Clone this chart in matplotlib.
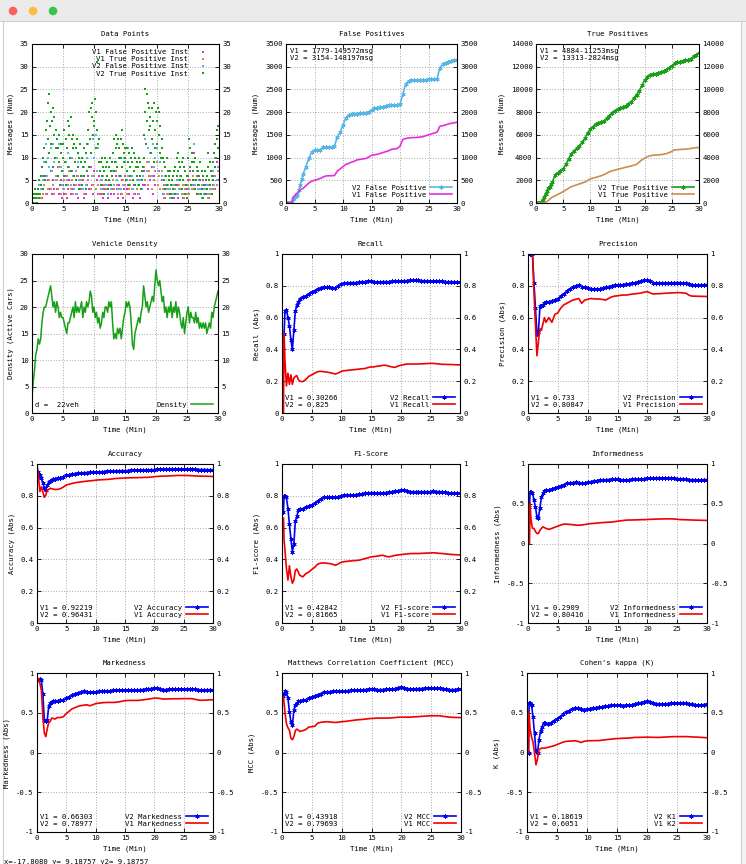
import numpy as np
import matplotlib
matplotlib.use('Agg')
import matplotlib.pyplot as plt
import matplotlib.transforms as mtransforms
from matplotlib.patches import Circle, Rectangle

nan = float('nan')

# ---------------- time axes ----------------
TIME = [0.0, 0.25, 0.35, 0.5, 0.75, 1.0, 1.25, 1.5, 1.75, 2.0, 2.25, 2.5, 2.75, 3.0,
        3.5, 4.0, 4.5, 5.0, 5.5, 6.0, 6.5, 7.0, 7.5, 8.0, 8.5, 9.0, 9.5, 10.0,
        10.5, 11.0, 11.5, 12.0, 12.5, 13.0, 13.5, 14.0, 14.5, 15.0, 15.5, 16.0, 16.5, 17.0, 17.5, 18.0, 18.5, 19.0, 19.5, 20.0,
        20.5, 21.0, 21.5, 22.0, 22.5, 23.0, 23.5, 24.0, 24.5, 25.0, 25.5, 26.0, 26.5, 27.0, 27.5, 28.0, 28.5, 29.0, 29.5, 30.0]

# ---------------- instantaneous data points ----------------
V2_TP_INST = [0,1,0,2,1,3,1,2,0,2, 3,1,5,2,6,4,8,3,10,6, 12,5,16,9,18,14,22,11,24,17,
              20,13,18,8,21,15,19,10,16,12, 14,6,12,9,15,4,11,13,7,10, 13,6,16,9,14,4,12,18,8,15,
              17,10,19,7,14,12,15,6,13,9, 12,5,14,8,11,3,10,13,6,9, 10,4,8,12,6,9,3,11,7,13,
              16,8,20,14,21,11,19,22,15,18, 17,23,12,20,31,16,13,9,14,7, 9,4,10,6,8,2,7,10,5,8,
              6,9,3,8,5,10,7,4,9,6, 11,7,14,9,15,12,13,8,14,10, 12,6,14,10,16,8,13,11,9,12,
              10,5,12,7,9,4,11,8,6,10, 9,12,5,11,7,10,4,8,6,9, 8,4,10,6,9,3,7,5,8,10,
              15,20,25,13,24,18,22,16,21,19, 17,11,21,14,18,9,22,16,12,20, 18,13,21,15,20,11,17,10,14,12,
              10,5,9,3,8,6,10,4,7,5, 6,2,7,4,5,1,6,3,7,2, 8,4,10,6,11,7,9,5,8,6,
              9,3,10,5,8,2,7,4,6,1, 10,6,14,8,12,4,9,11,7,5, 9,3,10,5,8,2,7,4,6,9,
              5,2,7,3,6,1,4,7,2,5, 6,3,8,11,5,9,4,7,2,6, 9,5,11,8,13,10,14,16,12,17]
V1_FP_INST = [0,1,0,2,1, 3,2,4,1,5, 4,6,2,5,3, 7,2,5,3,6, 3,8,2,5,1, 4,2,6,1,3,
              5,2,7,3,4, 2,6,1,4,3, 3,5,1,2,4, 6,3,8,4,2, 7,3,5,2,6, 2,4,1,3,5,
              3,1,4,2,3, 5,2,6,3,1, 4,2,5,1,3, 6,3,4,2,5, 3,1,4,2,3, 2,5,1,3,4,
              7,4,9,3,6, 5,8,2,6,4, 9,4,7,3,5, 2,4,1,3,2, 3,1,2,4,1, 2,4,1,3,5,
              3,1,4,2,3, 5,2,7,3,4, 11,3,6,2,4, 3,1,5,2,4, 2,4,1,3,2, 4,6,3,9,5]
V1_TP_INST = [0,0,1,0,1, 1,2,1,3,2, 4,2,6,3,5, 3,7,4,2,6, 5,3,8,2,4, 3,5,2,6,4,
              7,3,5,2,6, 4,2,6,3,5, 3,6,2,4,7, 5,8,3,6,4, 6,3,7,4,2, 3,5,2,4,3,
              4,2,5,3,6, 5,3,7,4,2, 3,6,2,5,4, 4,2,6,3,5, 3,5,2,4,3, 4,2,5,3,6,
              8,5,9,4,7, 6,3,8,5,7, 9,4,6,3,7, 3,1,4,2,3, 2,3,1,2,4, 3,5,2,4,3,
              2,4,1,3,2, 4,2,5,3,6, 3,5,2,4,3, 2,4,1,3,2, 3,1,4,2,3, 5,3,6,4,7]
V2_FP_INST = [0,1,0,1,2, 2,4,3,6,5, 9,13,6,10,8, 12,7,13,9,5, 10,6,13,8,4, 7,3,9,5,11,
              8,4,10,6,3, 7,2,9,5,4, 6,3,8,4,10, 13,8,11,6,14, 10,15,7,12,9, 5,3,6,2,4,
              4,2,5,3,6, 7,4,9,5,3, 6,3,8,4,10, 9,5,12,6,4, 6,3,7,4,5, 4,2,5,3,6,
              10,14,7,12,9, 11,6,13,8,10, 12,7,15,9,6, 5,2,6,3,4, 3,1,4,2,3, 4,2,5,3,6,
              3,5,2,4,1, 6,3,8,4,5, 13,4,7,3,5, 3,1,4,2,3, 4,2,5,3,6, 7,4,10,5,8]

# ---------------- vehicle density (every 0.2 min) ----------------
DENSITY = [3,6,8,11,12, 14,13,14,17,19, 20,20,21,22,23, 24,22,20,21,19, 21,20,18,19,18,
           18,17,16,15,17, 17,18,19,20,18, 21,19,20,19,20, 21,18,20,19,21, 20,21,23,22,19,
           20,18,19,17,18, 16,17,19,18,20, 20,19,21,20,21, 17,14,15,14,16, 15,16,14,16,18,
           19,21,20,21,20, 17,13,12,15,16, 17,18,17,19,20, 24,22,20,21,19, 20,21,22,21,24,
           27,25,24,25,23, 21,22,19,20,18, 20,19,21,18,20, 19,21,18,20,19, 17,16,18,15,17,
           19,20,17,19,18, 18,17,19,17,18, 16,17,16,17,16, 17,15,16,17,16, 19,18,20,21,22, 23]

# ---------------- cumulative counts ----------------
FP_V2 = [0,0,0,0,5,15,80,130,160,185,280,400,520,640,
         800,980,1120,1160,1160,1170,1230,1230,1230,1235,1250,1460,1560,1720,
         1880,1930,1950,1960,1970,1980,1985,1990,2000,2050,2095,2100,2110,2120,2135,2150,2150,2155,2160,2170,
         2400,2620,2680,2700,2700,2700,2705,2710,2715,2720,2720,2720,2740,2980,3060,3090,3110,3130,3145,3154]
FP_V1 = [0,0,0,0,0,10,130,160,200,220,260,290,310,320,
         380,440,480,500,520,540,570,595,600,600,605,700,750,800,
         850,870,900,920,950,960,970,980,1010,1050,1060,1070,1090,1110,1130,1150,1180,1190,1200,1250,
         1400,1420,1430,1440,1440,1445,1450,1460,1480,1500,1520,1540,1560,1690,1700,1720,1740,1755,1765,1779]
TP_V2 = [0,0,0,0,20,100,300,550,800,1050,1280,1450,1650,1850,
         2450,2650,2800,3000,3400,3900,4300,4600,4800,5050,5350,5700,6200,6500,
         6720,6950,7050,7120,7180,7450,7700,7950,8100,8250,8330,8420,8550,8700,8850,9250,9550,9900,10350,10830,
         11100,11280,11350,11400,11450,11500,11580,11750,11900,12100,12300,12400,12450,12520,12580,12620,12720,12900,13050,13180]
TP_V1 = [0,0,0,0,0,0,0,30,80,130,220,320,420,520,
         620,760,870,1000,1150,1300,1440,1520,1600,1680,1760,1850,1980,2120,
         2200,2250,2330,2400,2500,2620,2750,2830,2900,2960,3020,3080,3150,3200,3250,3330,3400,3600,3800,3950,
         4080,4150,4200,4220,4230,4260,4300,4350,4430,4550,4670,4690,4710,4730,4740,4770,4800,4840,4870,4884]

# ---------------- metrics ----------------
RECALL_V2 = [nan,nan,0.50,0.64,0.65,0.60,0.55,0.46,0.40,0.52,0.64,0.68,0.70,0.72,
             0.73,0.735,0.75,0.76,0.77,0.78,0.785,0.79,0.79,0.79,0.785,0.785,0.80,0.81,
             0.815,0.82,0.82,0.82,0.82,0.825,0.826,0.826,0.83,0.832,0.826,0.824,0.824,0.826,0.826,0.826,0.828,0.828,0.83,0.83,
             0.83,0.832,0.834,0.836,0.836,0.834,0.832,0.832,0.83,0.83,0.83,0.83,0.83,0.828,0.826,0.826,0.826,0.825,0.825,0.825]
RECALL_V1 = [nan,0.0,0.50,0.33,0.17,0.25,0.18,0.24,0.18,0.22,0.23,0.235,0.21,0.20,
             0.197,0.21,0.23,0.24,0.25,0.26,0.262,0.26,0.258,0.254,0.25,0.245,0.252,0.262,
             0.266,0.268,0.27,0.272,0.274,0.276,0.278,0.28,0.286,0.29,0.29,0.294,0.296,0.30,0.30,0.295,0.29,0.287,0.294,0.30,
             0.304,0.308,0.308,0.308,0.308,0.308,0.309,0.31,0.311,0.312,0.312,0.31,0.308,0.306,0.306,0.305,0.305,0.304,0.303,0.3027]
PRECISION_V2 = [nan,nan,1.0,1.0,1.0,0.82,0.66,0.50,0.51,0.67,0.67,0.68,0.69,0.70,
                0.70,0.705,0.71,0.72,0.735,0.75,0.765,0.78,0.79,0.80,0.805,0.795,0.79,0.785,
                0.78,0.78,0.78,0.78,0.785,0.79,0.795,0.80,0.803,0.805,0.805,0.808,0.81,0.812,0.815,0.82,0.825,0.83,0.835,0.837,
                0.83,0.82,0.815,0.815,0.815,0.815,0.815,0.818,0.82,0.82,0.82,0.818,0.815,0.81,0.805,0.805,0.805,0.806,0.807,0.808]
PRECISION_V1 = [nan,nan,nan,nan,1.0,0.76,0.55,0.36,0.45,0.53,0.52,0.56,0.60,0.57,
                0.60,0.57,0.62,0.63,0.66,0.68,0.69,0.70,0.71,0.715,0.72,0.69,0.71,0.715,
                0.72,0.718,0.717,0.717,0.714,0.71,0.72,0.73,0.735,0.737,0.74,0.742,0.742,0.745,0.748,0.75,0.752,0.755,0.76,0.763,
                0.755,0.748,0.75,0.75,0.752,0.753,0.754,0.755,0.756,0.757,0.757,0.755,0.753,0.74,0.735,0.735,0.734,0.734,0.733,0.733]
ACCURACY_V2 = [nan,0.95,0.925,0.93,0.91,0.88,0.85,0.836,0.868,0.885,0.895,0.90,0.905,0.908,
               0.91,0.915,0.92,0.928,0.932,0.937,0.94,0.942,0.944,0.945,0.946,0.947,0.948,0.948,
               0.95,0.951,0.952,0.953,0.954,0.955,0.956,0.957,0.958,0.958,0.959,0.96,0.96,0.961,0.961,0.962,0.962,0.963,0.964,0.964,
               0.967,0.966,0.966,0.966,0.967,0.967,0.967,0.968,0.968,0.968,0.968,0.967,0.967,0.966,0.965,0.965,0.965,0.964,0.964,0.964]
ACCURACY_V1 = [1.0,0.92,0.88,0.826,0.857,0.826,0.79,0.805,0.836,0.84,0.847,0.845,0.842,0.84,
               0.84,0.845,0.855,0.868,0.873,0.878,0.882,0.885,0.887,0.89,0.892,0.894,0.896,0.898,
               0.90,0.901,0.902,0.903,0.905,0.907,0.909,0.91,0.911,0.912,0.913,0.913,0.914,0.914,0.915,0.915,0.916,0.916,0.918,0.92,
               0.922,0.923,0.924,0.924,0.925,0.926,0.927,0.928,0.928,0.928,0.928,0.927,0.926,0.925,0.924,0.924,0.923,0.923,0.922,0.922]
F1_V2 = [nan,0.70,0.80,0.80,0.79,0.72,0.62,0.53,0.447,0.50,0.64,0.67,0.71,0.715,
         0.72,0.728,0.735,0.742,0.752,0.765,0.78,0.79,0.793,0.794,0.792,0.79,0.795,0.80,
         0.805,0.805,0.805,0.805,0.808,0.81,0.813,0.815,0.818,0.82,0.82,0.817,0.815,0.818,0.82,0.823,0.826,0.828,0.832,0.835,
         0.836,0.83,0.826,0.826,0.826,0.826,0.826,0.826,0.826,0.826,0.828,0.827,0.826,0.826,0.822,0.818,0.815,0.816,0.817,0.8167]
F1_V1 = [nan,0.66,0.52,0.458,0.342,0.27,0.36,0.29,0.25,0.27,0.33,0.34,0.32,0.30,
         0.29,0.31,0.32,0.336,0.35,0.37,0.376,0.378,0.376,0.374,0.37,0.363,0.372,0.382,
         0.386,0.388,0.39,0.392,0.393,0.395,0.40,0.405,0.41,0.416,0.418,0.42,0.424,0.426,0.42,0.416,0.42,0.425,0.428,0.43,
         0.432,0.434,0.436,0.437,0.437,0.437,0.438,0.439,0.44,0.44,0.442,0.44,0.438,0.437,0.435,0.433,0.431,0.43,0.429,0.428]
INFORMED_V2 = [nan,0.46,0.65,0.65,0.64,0.546,0.46,0.336,0.32,0.45,0.58,0.63,0.66,0.67,
               0.675,0.688,0.70,0.712,0.725,0.74,0.756,0.762,0.767,0.769,0.765,0.758,0.756,0.77,
               0.777,0.785,0.79,0.80,0.80,0.802,0.804,0.806,0.807,0.807,0.804,0.80,0.80,0.803,0.806,0.808,0.81,0.812,0.815,0.818,
               0.82,0.82,0.82,0.82,0.82,0.82,0.82,0.82,0.818,0.816,0.814,0.81,0.807,0.805,0.802,0.80,0.80,0.802,0.803,0.804]
INFORMED_V1 = [nan,0.0,0.5,0.30,0.19,0.19,0.15,0.126,0.126,0.168,0.19,0.21,0.20,0.19,
               0.178,0.19,0.205,0.218,0.232,0.244,0.243,0.24,0.236,0.232,0.23,0.233,0.238,0.245,
               0.25,0.253,0.256,0.26,0.263,0.266,0.268,0.27,0.275,0.28,0.285,0.29,0.294,0.295,0.296,0.297,0.298,0.30,0.30,0.302,
               0.304,0.306,0.307,0.308,0.309,0.31,0.31,0.31,0.308,0.305,0.30,0.30,0.298,0.297,0.295,0.294,0.293,0.292,0.291,0.291]
MARKED_V2 = [nan,nan,0.916,0.92,0.91,0.73,0.41,0.39,0.41,0.58,0.62,0.63,0.643,0.645,
             0.652,0.66,0.664,0.68,0.70,0.72,0.74,0.75,0.76,0.768,0.765,0.757,0.76,0.765,
             0.768,0.77,0.772,0.775,0.777,0.78,0.78,0.78,0.78,0.78,0.78,0.78,0.782,0.785,0.788,0.792,0.797,0.80,0.805,0.81,
             0.81,0.80,0.79,0.792,0.794,0.795,0.796,0.797,0.798,0.798,0.798,0.797,0.795,0.793,0.79,0.788,0.788,0.789,0.79,0.79]
MARKED_V1 = [nan,0.93,0.90,0.87,0.78,0.45,0.244,0.20,0.30,0.378,0.39,0.433,0.43,0.42,
             0.44,0.44,0.45,0.49,0.52,0.55,0.565,0.58,0.59,0.595,0.60,0.588,0.60,0.615,
             0.62,0.625,0.628,0.63,0.63,0.63,0.632,0.638,0.645,0.652,0.655,0.655,0.655,0.655,0.657,0.662,0.667,0.672,0.678,0.684,
             0.684,0.678,0.672,0.673,0.674,0.675,0.676,0.676,0.677,0.677,0.678,0.678,0.676,0.668,0.66,0.656,0.658,0.66,0.662,0.663]
MCC_V2 = [nan,0.706,0.74,0.77,0.76,0.68,0.51,0.38,0.35,0.54,0.60,0.62,0.643,0.648,
          0.655,0.665,0.68,0.695,0.712,0.728,0.742,0.756,0.762,0.766,0.769,0.769,0.769,0.77,
          0.774,0.777,0.78,0.782,0.784,0.786,0.788,0.792,0.796,0.798,0.794,0.79,0.79,0.792,0.794,0.796,0.798,0.805,0.815,0.823,
          0.815,0.805,0.80,0.802,0.803,0.804,0.805,0.806,0.807,0.807,0.808,0.81,0.81,0.805,0.798,0.792,0.79,0.792,0.795,0.797]
MCC_V1 = [nan,0.70,0.62,0.50,0.36,0.31,0.28,0.18,0.16,0.20,0.277,0.294,0.28,0.265,
          0.275,0.29,0.32,0.325,0.33,0.37,0.38,0.385,0.387,0.385,0.38,0.378,0.382,0.388,
          0.39,0.395,0.40,0.405,0.41,0.413,0.416,0.42,0.425,0.428,0.43,0.433,0.433,0.433,0.433,0.433,0.436,0.44,0.444,0.445,
          0.445,0.445,0.445,0.448,0.45,0.452,0.455,0.458,0.46,0.462,0.462,0.462,0.462,0.455,0.45,0.446,0.443,0.441,0.44,0.439]
KAPPA_V2 = [nan,0.0,0.62,0.62,0.60,0.45,0.24,0.013,-0.01,0.16,0.27,0.32,0.37,0.365,
            0.36,0.375,0.40,0.425,0.45,0.48,0.505,0.525,0.546,0.555,0.56,0.55,0.538,0.545,
            0.552,0.56,0.565,0.57,0.575,0.58,0.585,0.592,0.60,0.598,0.592,0.588,0.592,0.597,0.60,0.61,0.618,0.628,0.638,0.643,
            0.632,0.62,0.615,0.612,0.61,0.612,0.615,0.618,0.62,0.62,0.62,0.62,0.62,0.615,0.605,0.598,0.597,0.60,0.603,0.605]
KAPPA_V1 = [nan,0.0,0.50,0.30,0.20,0.13,0.0,-0.155,-0.08,0.034,0.05,0.055,0.055,0.055,
            0.065,0.075,0.084,0.10,0.115,0.13,0.14,0.143,0.145,0.147,0.14,0.126,0.14,0.147,
            0.148,0.149,0.15,0.15,0.155,0.16,0.164,0.168,0.172,0.175,0.177,0.179,0.18,0.182,0.186,0.19,0.19,0.191,0.192,0.193,
            0.192,0.191,0.19,0.19,0.192,0.194,0.196,0.198,0.20,0.20,0.20,0.20,0.20,0.198,0.196,0.194,0.193,0.19,0.188,0.186]

# ---------------- styling ----------------
W, H = 746, 864
FS = 5.2
plt.rcParams['font.family'] = ['DejaVu Sans Mono', 'DejaVu Sans']
plt.rcParams['font.size'] = FS
plt.rcParams['axes.unicode_minus'] = False

C_BLUE = '#0000f0'
C_RED = '#f00000'
C_MAG = '#e030e0'
C_TAN = '#cd8c50'
C_CYAN = '#58b6e6'
C_GREEN = '#17a017'
ASTER = (6, 2, 0)
MS = 3.0
MEW = 0.6

fig = plt.figure(figsize=(W / 100, H / 100), dpi=100)
fig.patch.set_facecolor('white')

# window chrome
bg = fig.add_axes([0, 0, 1, 1], zorder=-10)
bg.set_xlim(0, W)
bg.set_ylim(H, 0)
bg.axis('off')
bg.add_patch(Rectangle((0, 0), W, 21, color='#ebebeb', lw=0))
bg.plot([0, W], [21, 21], color='#d0d0d0', lw=0.8)
bg.add_patch(Rectangle((741, 21), W - 741, H - 21, color='#f3f3f3', lw=0))
bg.plot([3, 3], [21, H], color='#cfcfcf', lw=0.8)
bg.plot([741, 741], [21, H], color='#cfcfcf', lw=0.8)
for cx, col in [(13, '#fc605b'), (33, '#fdbc40'), (53, '#34c84a')]:
    bg.add_patch(Circle((cx, 11), 4.3, color=col, lw=0))
bg.text(4, 862, 'x=-17.8080 y= 9.18757 y2= 9.18757', fontsize=FS, va='center', ha='left')


def px_axes(l, t, r, b):
    return fig.add_axes([l / W, 1 - b / H, (r - l) / W, (b - t) / H])


def style(ax, title, ylabel, ylim, yticks, ylabels):
    ax.set_xlim(0, 30)
    ax.set_xticks(range(0, 31, 5))
    ax.set_ylim(*ylim)
    ax.set_yticks(yticks)
    ax.set_yticklabels(ylabels)
    ax.tick_params(direction='in', length=3, width=0.6, top=True, right=True,
                   labelright=True, labelsize=FS, pad=2.5)
    ax.grid(True, color='#8c8c8c', linestyle=(0, (1, 2.2)), linewidth=0.6)
    ax.set_axisbelow(True)
    ax.set_title(title, fontsize=FS, pad=6)
    ax.set_xlabel('Time (Min)', fontsize=FS, labelpad=3)
    ax.set_ylabel(ylabel, fontsize=FS, labelpad=4)
    for s in ax.spines.values():
        s.set_linewidth(0.8)


def corner_text(ax, txt, where):
    if where == 'tl':
        tr = mtransforms.offset_copy(ax.transAxes, fig=fig, x=4, y=-4, units='dots')
        ax.text(0, 1, txt, transform=tr, ha='left', va='top', fontsize=FS, linespacing=1.15)
    else:
        tr = mtransforms.offset_copy(ax.transAxes, fig=fig, x=3, y=5, units='dots')
        ax.text(0, 0, txt, transform=tr, ha='left', va='bottom', fontsize=FS, linespacing=1.15)


def legend(ax, loc, **kw):
    ax.legend(loc=loc, frameon=False, markerfirst=False, fontsize=FS, handlelength=3.0,
              handletextpad=0.6, labelspacing=0.15, borderaxespad=0.4, borderpad=0.3,
              numpoints=1, **kw)


UNIT_T = [0, 0.2, 0.4, 0.6, 0.8, 1]
UNIT_L = ['0', '0.2', '0.4', '0.6', '0.8', '1']
SYM_T = [-1, -0.5, 0, 0.5, 1]
SYM_L = ['-1', '-0.5', '0', '0.5', '1']

# ---- Row 1: Data points
t_g = np.round(np.arange(len(V2_TP_INST)) * 0.1, 2)
t_s = np.round(np.arange(len(V1_FP_INST)) * 0.2, 2)
ax = px_axes(32, 44, 219, 203)
ax.plot(t_s, V1_FP_INST, 's', ms=1.9, mew=0, color=C_MAG, label='V1 False Positive Inst')
ax.plot(t_s, V1_TP_INST, 's', ms=1.9, mew=0, color=C_TAN, label='V1 True Positive Inst')
ax.plot(t_s, V2_FP_INST, 's', ms=1.9, mew=0, color=C_CYAN, label='V2 False Positive Inst')
ax.plot(t_g, V2_TP_INST, 's', ms=2.0, mew=0, color=C_GREEN, label='V2 True Positive Inst')
style(ax, 'Data Points', 'Messages (Num)', (0, 35), range(0, 36, 5), [str(v) for v in range(0, 36, 5)])
legend(ax, 'upper right')

# ---- False positives
ax = px_axes(286, 44, 457, 203)
ax.plot(TIME, FP_V2, '-', color=C_CYAN, lw=1.2, marker=ASTER, ms=MS, mew=MEW, label='V2 False Positive')
ax.plot(TIME, FP_V1, '-', color=C_MAG, lw=1.2, label='V1 False Positive')
style(ax, 'False Positives', 'Messages (Num)', (0, 3500), range(0, 3501, 500), [str(v) for v in range(0, 3501, 500)])
legend(ax, 'lower right')
corner_text(ax, 'V1 = 1779-149572msg\nV2 = 3154-148197msg', 'tl')

# ---- True positives
ax = px_axes(536, 44, 699, 203)
ax.plot(TIME, TP_V2, '-', color=C_GREEN, lw=1.2, marker=ASTER, ms=MS, mew=MEW, label='V2 True Positive')
ax.plot(TIME, TP_V1, '-', color=C_TAN, lw=1.2, label='V1 True Positive')
style(ax, 'True Positives', 'Messages (Num)', (0, 14000), range(0, 14001, 2000), [str(v) for v in range(0, 14001, 2000)])
legend(ax, 'lower right')
corner_text(ax, 'V1 = 4884-11253msg\nV2 = 13313-2824msg', 'tl')

# ---- Vehicle density
t_d = np.round(np.arange(len(DENSITY)) * 0.2, 2)
ax = px_axes(32, 254, 218, 413)
ax.plot(t_d, DENSITY, '-', color=C_GREEN, lw=1.1, label='Density')
style(ax, 'Vehicle Density', 'Density (Active Cars)', (0, 30), range(0, 31, 5), [str(v) for v in range(0, 31, 5)])
legend(ax, 'lower right')
corner_text(ax, 'd =  22veh', 'bl')

# ---- metric panels
panels = [
    ((282, 254, 460, 413), 'Recall', 'Recall (Abs)', RECALL_V2, RECALL_V1, 'Recall', 'Recall', '0.30266', '0.825', True),
    ((528, 254, 707, 413), 'Precision', 'Precision (Abs)', PRECISION_V2, PRECISION_V1, 'Precision', 'Precision', '0.733', '0.80847', True),
    ((37, 464, 213, 623), 'Accuracy', 'Accuracy (Abs)', ACCURACY_V2, ACCURACY_V1, 'Accuracy', 'Accuracy', '0.92219', '0.96431', True),
    ((282, 464, 460, 623), 'F1-Score', 'F1-score (Abs)', F1_V2, F1_V1, 'F1-score', 'F1-score', '0.42842', '0.81665', True),
    ((528, 464, 707, 623), 'Informedness', 'Informedness (Abs)', INFORMED_V2, INFORMED_V1, 'Informedness', 'Informedness', '0.2909', '0.80416', False),
    ((37, 673, 213, 832), 'Markedness', 'Markedness (Abs)', MARKED_V2, MARKED_V1, 'Markedness', 'Markedness', '0.66303', '0.78977', False),
    ((282, 673, 461, 832), 'Matthews Correlation Coefficient (MCC)', 'MCC (Abs)', MCC_V2, MCC_V1, 'MCC', 'MCC', '0.43918', '0.79693', False),
    ((527, 673, 707, 832), "Cohen's kappa (K)", 'K (Abs)', KAPPA_V2, KAPPA_V1, 'K1', 'K2', '0.18619', '0.6051', False),
]
for rect, title, ylab, v2, v1, n2, n1, f1, f2, unit in panels:
    ax = px_axes(*rect)
    ax.plot(TIME, v2, '-', color=C_BLUE, lw=1.2, marker=ASTER, ms=MS, mew=MEW, label='V2 ' + n2)
    ax.plot(TIME, v1, '-', color=C_RED, lw=1.2, label='V1 ' + n1)
    if unit:
        style(ax, title, ylab, (0, 1), UNIT_T, UNIT_L)
    else:
        style(ax, title, ylab, (-1, 1), SYM_T, SYM_L)
    legend(ax, 'lower right')
    corner_text(ax, 'V1 = %s\nV2 = %s' % (f1, f2), 'bl')

fig.savefig('out.png', dpi=100, facecolor='white')
